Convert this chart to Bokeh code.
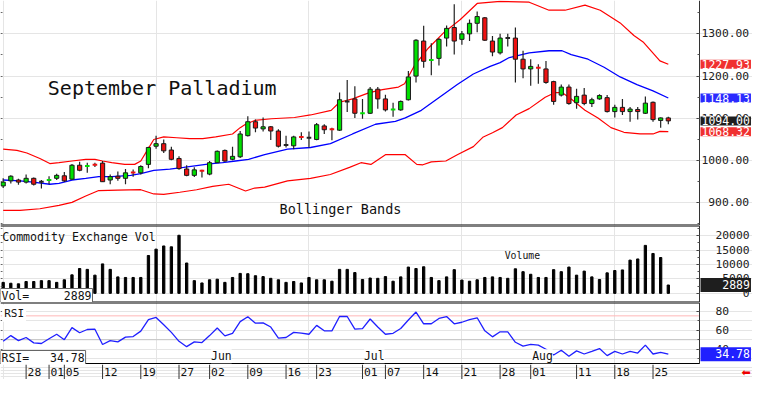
from bokeh.plotting import figure
from bokeh.layouts import column
from bokeh.models import Range1d, FixedTicker, Label, LinearAxis, ColumnDataSource
from bokeh.embed import file_html
from bokeh.resources import INLINE
from bokeh.core.properties import value

# ---------------- data (Sep Palladium, daily, 2025-04-23 .. 2025-08-27) ----------------
OPEN = [940, 952, 954, 949, 958, 950, 953, 958, 964, 956,
        989, 986, 991, 994, 954, 963, 958, 973, 971, 991,
        1034, 1040, 1025, 1005, 980, 965, 977, 968, 995, 1024,
        1003, 1009, 1059, 1092, 1075, 1080, 1070, 1037, 1035, 1057,
        1054, 1050, 1082, 1075, 1072, 1140, 1146, 1111, 1112, 1169,
        1146, 1120, 1120, 1144, 1200, 1283, 1237, 1242, 1290, 1315,
        1287, 1300, 1325, 1338, 1283, 1255, 1290, 1290, 1240, 1217,
        1221, 1217, 1187, 1155, 1174, 1137, 1155, 1135, 1146, 1149,
        1116, 1126, 1116, 1121, 1112, 1138, 1095, 1101]
HIGH = [958, 965, 957, 967, 960, 954, 963, 969, 973, 992,
        997, 995, 995, 999, 967, 974, 980, 979, 989, 1033,
        1059, 1050, 1033, 1010, 989, 984, 978, 999, 1024, 1026,
        1033, 1070, 1105, 1097, 1102, 1082, 1074, 1059, 1059, 1067,
        1069, 1089, 1086, 1078, 1161, 1191, 1176, 1146, 1174, 1174,
        1156, 1137, 1142, 1212, 1287, 1319, 1278, 1290, 1320, 1370,
        1307, 1334, 1353, 1340, 1295, 1300, 1300, 1315, 1260, 1240,
        1228, 1236, 1189, 1180, 1180, 1170, 1172, 1149, 1157, 1155,
        1132, 1146, 1127, 1127, 1152, 1140, 1102, 1104]
LOW = [935, 946, 943, 946, 941, 934, 944, 954, 949, 954,
       975, 971, 985, 949, 944, 952, 944, 962, 967, 982,
       1028, 1018, 1001, 978, 963, 961, 960, 965, 994, 997,
       1001, 1006, 1057, 1067, 1069, 1049, 1031, 1031, 1027, 1049,
       1031, 1048, 1063, 1048, 1070, 1115, 1101, 1099, 1110, 1123,
       1116, 1104, 1118, 1142, 1185, 1220, 1202, 1225, 1270, 1251,
       1274, 1283, 1304, 1283, 1247, 1251, 1270, 1185, 1195, 1177,
       1182, 1182, 1132, 1152, 1132, 1123, 1131, 1127, 1144, 1114,
       1102, 1108, 1092, 1097, 1110, 1092, 1078, 1086]
CLOSE = [949, 963, 949, 958, 944, 950, 954, 965, 952, 989,
         977, 987, 990, 950, 962, 958, 971, 972, 986, 1031,
         1040, 1023, 1003, 981, 965, 978, 976, 995, 1022, 999,
         1010, 1063, 1092, 1077, 1080, 1070, 1034, 1037, 1056, 1056,
         1054, 1085, 1073, 1074, 1144, 1140, 1112, 1112, 1169, 1146,
         1120, 1121, 1140, 1198, 1285, 1235, 1238, 1287, 1313, 1283,
         1300, 1325, 1341, 1285, 1257, 1290, 1290, 1240, 1217, 1223,
         1220, 1185, 1140, 1174, 1135, 1152, 1135, 1144, 1154, 1116,
         1126, 1116, 1122, 1116, 1136, 1097, 1101, 1094.00]
VOLUME = [3800, 3500, 3300, 4100, 4100, 4400, 4400, 3800, 4700, 6400,
          8600, 8300, 6300, 10200, 8300, 5700, 5500, 5500, 5500, 13100,
          15300, 16400, 16100, 20100, 10500, 4400, 3600, 4700, 4900, 3800,
          5500, 6900, 6800, 6100, 5800, 5200, 4700, 3800, 4100, 3600,
          5500, 4700, 4700, 4200, 8300, 8300, 7200, 4800, 5300, 5200,
          5800, 4200, 5700, 9100, 8600, 9200, 5500, 4400, 5700, 8200,
          4600, 4200, 4700, 5500, 5700, 5500, 5200, 8500, 7500, 6600,
          5500, 5500, 8200, 7500, 9100, 6300, 7700, 5700, 4800, 7100,
          7900, 8100, 11500, 11900, 16600, 13800, 12400, 2889]
RSI = [48.3, 54.3, 49, 52.3, 46.7, 46, 51, 55.7, 50, 62.7,
       57.3, 60.7, 61, 45, 49, 47.7, 52.7, 53.3, 59, 71,
       73.3, 65.7, 57.7, 48.3, 42.7, 47.7, 47, 54.3, 62.3, 54,
       56.7, 69, 74, 67.3, 67.7, 63.3, 51.7, 52.3, 57.7, 57,
       55.7, 65, 59.3, 59.3, 74.3, 74.3, 61, 61.7, 71.7, 63.3,
       55.7, 56.7, 61.7, 70.7, 79, 66.7, 66.7, 72.3, 74.3, 66.7,
       68.3, 71, 73, 59.3, 53, 58.3, 58.3, 47.3, 43.3, 45,
       44.3, 40, 34, 39, 32.7, 38.3, 35, 37.7, 40.7, 33.3,
       37.7, 35, 37.7, 36, 44.3, 35, 36.7, 34.78]

# Bollinger bands (read at the points shown, x = trading-day index)
UB_X = [0, 1.8, 3.1, 4.8, 6.1, 7.3, 9.0, 10.8, 12.0, 13.0, 14.2, 15.9, 17.2, 18.0, 19.0, 19.7,
        21.0, 22.7, 24.4, 26.1, 27.8, 30.0, 31.0, 31.7, 32.9, 35.1, 38.1, 40.2, 42.9, 44.0,
        45.7, 47.9, 49.6, 51.7, 52.5, 53.8, 55.6, 57.7, 59.8, 62.0, 65.0, 68.8, 71.4, 73.5,
        76.1, 78.1, 80.7, 82.5, 83.7, 85.9, 87.0]
UB_Y = [1027, 1024, 1018, 1005, 993, 995, 999, 1003, 1003, 999, 995, 991, 991, 999, 1029, 1050,
        1056, 1054, 1052, 1052, 1056, 1063, 1078, 1086, 1095, 1099, 1102, 1108, 1119, 1138,
        1146, 1161, 1168, 1174, 1182, 1225, 1266, 1304, 1334, 1372, 1377, 1375, 1356, 1356,
        1368, 1356, 1326, 1296, 1281, 1236, 1227.93]
MB_X = [0, 2.2, 3.9, 6.1, 7.3, 9.0, 10.8, 12.5, 14.2, 16.7, 18.0, 19.7, 21.8, 23.6, 25.3,
        27.0, 28.7, 30.4, 32.1, 34.2, 37.2, 40.2, 42.8, 45.7, 48.7, 51.3, 52.6, 54.7, 57.3,
        59.4, 61.5, 63.7, 65.0, 66.2, 68.8, 71.4, 73.1, 74.3, 76.5, 78.6, 80.7, 82.9, 85.0, 87.0]
MB_Y = [954, 952, 949, 944, 946, 954, 958, 962, 962, 965, 969, 977, 980, 984, 988,
        992, 995, 999, 1003, 1014, 1027, 1031, 1040, 1063, 1086, 1093, 1101, 1119, 1153,
        1180, 1205, 1223, 1232, 1244, 1255, 1260, 1260, 1251, 1240, 1221, 1198, 1180, 1165, 1148.13]
LB_X = [0, 2.2, 4.8, 7.3, 9.0, 10.8, 12.5, 15.0, 18.0, 19.7, 21.0, 23.1, 25.3, 27.4, 29.5,
        31.7, 32.9, 34.2, 37.2, 40.2, 42.8, 45.3, 46.8, 48.1, 50.0, 52.6, 54.1, 54.9, 56.0,
        57.9, 59.4, 61.5, 62.8, 64.0, 65.3, 67.1, 68.8, 70.9, 72.2, 73.1, 74.3, 76.1, 77.8,
        79.5, 81.2, 83.3, 85.0, 85.9, 87.0]
LB_Y = [882, 882, 886, 894, 901, 916, 929, 930, 931, 921, 920, 925, 931, 939, 944,
        928, 935, 937, 952, 958, 967, 984, 995, 991, 1014, 1014, 991, 990, 997,
        999, 1014, 1033, 1056, 1066, 1078, 1108, 1123, 1150, 1161, 1161, 1146, 1119, 1101,
        1078, 1067, 1063, 1063, 1069, 1068.32]

TICK_POS = [3, 6, 8, 13, 18, 23, 27, 32, 37, 41, 47, 50, 55, 60, 65, 69, 75, 80, 85]
TICK_LABELS = ["28", "01", "05", "12", "19", "27", "02", "09", "16", "23",
               "01", "07", "14", "21", "28", "01", "11", "18", "25"]
MONTH_POS = [27, 47, 69]
MONTH_LABELS = ["Jun", "Jul", "Aug"]

PRICE_TICKS = [900, 1000, 1100, 1200, 1300]
PRICE_TICK_LABELS = ["\u00a0900.00", "1000.00", "1100.00", "1200.00", "1300.00"]
PRICE_MINOR = [850, 900, 950, 1000, 1050, 1100, 1150, 1200, 1250, 1300, 1350]
VOL_TICKS = [0, 5000, 10000, 15000, 20000]
VOL_TICK_LABELS = ["\u00a0\u00a0\u00a0\u00a00", "\u00a05000", "10000", "15000", "20000"]
VOL_MINOR = [0, 2500, 5000, 7500, 10000, 12500, 15000, 17500, 20000, 22500]
RSI_TICKS = [40, 60, 80]
RSI_TICK_LABELS = ["40", "60", "80"]
RSI_MINOR = [30, 40, 50, 60, 70, 80]
RSI_OVERBOUGHT = 75
RSI_MID = 50

LAST_UPPER = 1227.93
LAST_MIDDLE = 1148.13
LAST_CLOSE = 1094.00
LAST_LOWER = 1068.32
LAST_VOL = 2889
LAST_RSI = 34.78

# ---------------- layout constants ----------------
FONT = "DejaVu Sans Mono"
W = 752
X0, X1 = -0.35, 91.08            # data span of the chart area (left edge .. price axis)
XF = X0 + (X1 - X0) * W / 699.0  # full width incl. the label strip right of the axis
PRICE_LO, PRICE_HI = 846.3, 1379.0
VOL_LO, VOL_HI = -3163, 23477
RSI_LO, RSI_HI = 24, 89

xr = Range1d(X0, XF)


def make_fig(h, y0, y1):
    p = figure(frame_width=W, frame_height=h, x_range=xr, y_range=Range1d(y0, y1),
               output_backend="svg", toolbar_location=None,
               min_border_left=0, min_border_right=0, min_border_top=0, min_border_bottom=0,
               x_axis_location=None, y_axis_location=None,
               background_fill_color="white", border_fill_color="white",
               outline_line_color=None)
    return p


def add_axes(p, ticks, labels, minor, standoff):
    ax = LinearAxis(fixed_location=X1,
                    ticker=FixedTicker(ticks=ticks, minor_ticks=minor),
                    major_label_overrides={t: l for t, l in zip(ticks, labels)},
                    major_label_standoff=standoff, major_tick_in=3, major_tick_out=0,
                    minor_tick_in=2, minor_tick_out=0,
                    axis_line_color="#333333", major_tick_line_color="#333333",
                    minor_tick_line_color="#555555",
                    major_label_text_font=FONT, major_label_text_font_size="11.3px",
                    major_label_text_color="#222222")
    p.add_layout(ax, "right")
    lax = LinearAxis(fixed_location=X0, ticker=FixedTicker(ticks=minor),
                     major_tick_in=0, major_tick_out=2, axis_line_color=None,
                     major_tick_line_color="#666666", minor_tick_line_color=None,
                     major_label_text_color=None, major_label_text_font_size="1px",
                     major_label_standoff=0)
    p.add_layout(lax, "right")


def hline(p, y, color="black", width=2):
    p.segment(x0=[X0], x1=[X1], y0=[y], y1=[y], line_color=color, line_width=width)


def box(p, x, y, text, bg, fg="white", baseline="middle", xoff=0, border=None):
    p.add_layout(Label(x=x, y=y, x_offset=xoff, text=text, text_font=FONT,
                       text_font_size="11.5px", text_color=fg, text_align="left",
                       text_baseline=baseline, background_fill_color=bg,
                       border_line_color=border, padding=(1, 0)))


idx = list(range(len(CLOSE)))

# ---------------- price panel ----------------
p1 = make_fig(225, PRICE_LO, PRICE_HI)
add_axes(p1, PRICE_TICKS, PRICE_TICK_LABELS, PRICE_MINOR, 2)

p1.line(UB_X, UB_Y, line_color="#ff0000", line_width=1.2)
p1.line(LB_X, LB_Y, line_color="#ff0000", line_width=1.2)
p1.line(MB_X, MB_Y, line_color="#0000ff", line_width=1.3)

body = dict(x=[], top=[], bot=[], color=[])
doji = dict(x0=[], x1=[], y=[], color=[])
for i, o, c in zip(idx, OPEN, CLOSE):
    col = "#00e000" if c > o else ("#ee1111" if c < o else "#222222")
    if abs(c - o) <= 2:
        doji["x0"].append(i - 0.3)
        doji["x1"].append(i + 0.3)
        doji["y"].append(c)
        doji["color"].append(col)
    else:
        body["x"].append(i)
        body["top"].append(max(o, c))
        body["bot"].append(min(o, c))
        body["color"].append(col)

p1.segment(x0=idx, x1=idx, y0=LOW, y1=HIGH, line_color="#222222", line_width=1.2)
p1.vbar(x="x", top="top", bottom="bot", width=0.55, fill_color="color",
        line_color="#1a1a1a", line_width=1, source=ColumnDataSource(body))
p1.segment(x0="x0", x1="x1", y0="y", y1="y", line_color="color", line_width=2,
           source=ColumnDataSource(doji))
hline(p1, PRICE_LO)

p1.add_layout(Label(x=5.84, y=1172, text="September Palladium", text_font=FONT,
                    text_font_size="20px", text_color="#111111", text_baseline="alphabetic"))
p1.add_layout(Label(x=36.15, y=884.7, text="Bollinger Bands", text_font=FONT,
                    text_font_size="13.5px", text_color="#111111", text_baseline="alphabetic"))

box(p1, X1, LAST_UPPER, "%.2f" % LAST_UPPER, "#f03030", xoff=1)
box(p1, X1, LAST_MIDDLE, "%.2f" % LAST_MIDDLE, "#2a2aff", xoff=1)
box(p1, X1, LAST_CLOSE, "%.2f" % LAST_CLOSE, "#1e1e1e", xoff=1)
box(p1, X1, LAST_LOWER, "%.2f" % LAST_LOWER, "#f03030", xoff=1)

# ---------------- volume panel ----------------
p2 = make_fig(77, VOL_LO, VOL_HI)
add_axes(p2, VOL_TICKS, VOL_TICK_LABELS, VOL_MINOR, 16)
p2.vbar(x=idx, top=VOLUME, bottom=0, width=0.3, color="#000000")
hline(p2, VOL_HI)
hline(p2, VOL_LO)
p2.add_layout(Label(x=-0.13, y=19381, text="Commodity Exchange Vol", text_font=FONT,
                    text_font_size="11.6px", text_color="#111111", text_baseline="alphabetic"))
p2.add_layout(Label(x=65.6, y=13054, text="Volume", text_font=FONT,
                    text_font_size="9.8px", text_color="#111111", text_baseline="alphabetic"))
box(p2, X0, VOL_LO, "Vol=\u00a0\u00a0\u00a0\u00a0\u00a0%d" % LAST_VOL, "white", fg="#111111",
    baseline="bottom", border="#666666")
box(p2, X1, LAST_VOL, "\u00a0\u00a0\u00a0%d" % LAST_VOL, "#1e1e1e", xoff=1)

# ---------------- RSI panel ----------------
p3 = make_fig(62, RSI_LO, RSI_HI)
add_axes(p3, RSI_TICKS, RSI_TICK_LABELS, RSI_MINOR, 16)
hline(p3, RSI_OVERBOUGHT, color="#ffb8b8", width=1)
hline(p3, RSI_MID, color="#c4c4c4", width=1)
p3.line(idx, RSI, line_color="#1f1fff", line_width=1.3)
hline(p3, RSI_HI)
hline(p3, RSI_LO, width=3)
p3.add_layout(Label(x=-0.13, y=77.7, text="RSI", text_font=FONT, text_font_size="11px",
                    text_color="#111111", text_baseline="alphabetic",
                    background_fill_color="white", padding=2))
for mp, ml in zip(MONTH_POS, MONTH_LABELS):
    p3.add_layout(Label(x=mp, y=RSI_LO + 1.2, x_offset=1.5, text=ml, text_font=FONT,
                        text_font_size="11.4px", text_color="#111111",
                        text_baseline="bottom", background_fill_color="white"))
box(p3, X0, RSI_LO, "RSI=\u00a0\u00a0\u00a0%.2f" % LAST_RSI, "white", fg="#111111",
    baseline="bottom", border="#666666")
box(p3, X1, LAST_RSI, "\u00a0\u00a0%.2f" % LAST_RSI, "#2020ff", xoff=1)

# ---------------- date band ----------------
p4 = make_fig(15, 0, 1)
p4.segment(x0=TICK_POS, x1=TICK_POS, y0=0, y1=1, line_color="#333333", line_width=1)
p4.text(x=TICK_POS, y=[0.5] * len(TICK_POS), text=TICK_LABELS, x_offset=1.5,
        text_font=value(FONT), text_font_size="11.3px", text_color="#111111",
        text_align="left", text_baseline="middle")
p4.add_layout(Label(x=X1, y=0.5, x_offset=42, text="\u2b05", text_font="DejaVu Sans",
                    text_font_size="11px", text_color="#ee0000", text_baseline="middle"))

layout = column(p1, p2, p3, p4, spacing=0)
open("out.html", "w").write(file_html(layout, INLINE))
